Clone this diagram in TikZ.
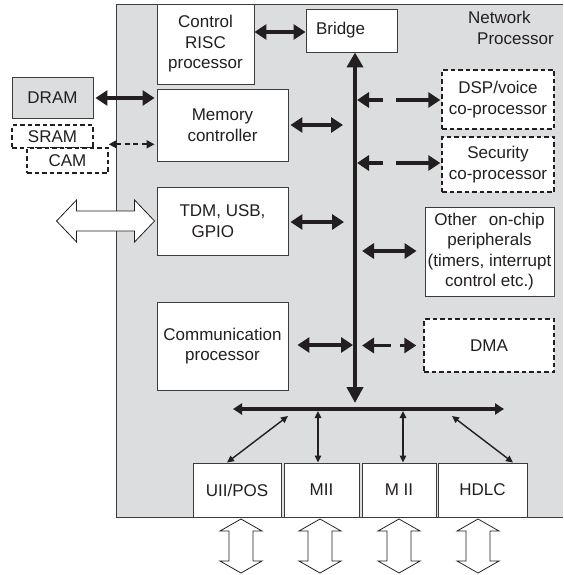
\documentclass[tikz,border=0pt]{standalone}
\usepackage{fontspec}
\setmainfont{Liberation Sans}
\usetikzlibrary{arrows.meta,calc}
\definecolor{chipgray}{RGB}{220,221,223}
\definecolor{ink}{RGB}{35,31,32}
\definecolor{edge}{RGB}{60,60,60}

\begin{document}
\begin{tikzpicture}[x=1pt,y=-1pt,
  font=\fontsize{17}{20.5}\selectfont, text=ink,
  sz/.style 2 args={minimum width=#1pt, minimum height=#2pt},
  blk/.style={draw=edge, line width=0.9pt, fill=white, inner sep=0pt, align=center},
  dblk/.style={blk, draw=ink, line width=1.4pt, dash pattern=on 4.5pt off 3pt},
  thk/.style={draw=ink, line width=3.2pt,
    {Triangle[length=12pt,width=15pt]}-{Triangle[length=12pt,width=15pt]}},
  dthk/.style={thk, dash pattern=on 15pt off 13pt on 60pt off 1pt},
  dthkshort/.style={thk, dash pattern=on 18pt off 9pt},
  busline/.style={draw=ink, line width=4pt,
    {Triangle[length=15pt,width=16pt]}-{Triangle[length=16pt,width=16pt]}},
  hbus/.style={draw=ink, line width=3.6pt,
    {Triangle[length=9pt,width=11pt]}-{Triangle[length=9pt,width=11pt]}},
  thin/.style={draw=ink, line width=1.4pt,
    {Triangle[length=7pt,width=6.5pt]}-{Triangle[length=7pt,width=6.5pt]}},
  dthin/.style={draw=ink, line width=1.8pt, dash pattern=on 5pt off 3.5pt,
    {Triangle[length=8pt,width=8pt]}-{Triangle[length=8pt,width=8pt]}},
  hollow/.style={draw=ink, line width=0.8pt, fill=white, line join=miter},
  pics/vport/.style={code={
    \path[hollow] (0,-27) -- (21,-15) -- (12,-15) -- (12,15) -- (21,15)
      -- (0,27) -- (-21,15) -- (-12,15) -- (-12,-15) -- (-21,-15) -- cycle;}}
]
\useasboundingbox (0,0) rectangle (563,575);

% chip outline
\fill[chipgray] (116,4) rectangle (563,517);
\draw[edge, line width=0.9pt] (563,4) -- (116,4) -- (116,517) -- (563,517);
\node[anchor=north west, align=left, inner sep=0pt] (np) at (468,11)
  {Network\\\hspace*{9pt}Processor};

% on-chip blocks
\node[blk, sz={97}{80}] (ctrl) at (205.5,44) {Control\\RISC\\processor};
\node[blk, sz={91}{43}, align=left, text width=71pt, inner xsep=10pt] (bridge)
  at (351.5,30.5) {\raisebox{4pt}{Bridge}};
\node[blk, sz={131}{72}] (mem) at (222.5,125) {Memory\\controller};
\node[blk, sz={131}{68}, align=left] (tdm) at (222.5,221)
  {TDM, USB,\\\hspace*{12pt}GPIO};
\node[blk, sz={131}{88}] (comm) at (222.5,346) {Communication\\processor};
\node[dblk, sz={112}{59}] (dsp) at (498,99.5) {DSP/voice\\co-processor};
\node[dblk, sz={112}{55}] (sec) at (498,164.5) {Security\\co-processor};
\node[blk, sz={129}{89}] (other) at (489.5,251.5)
  {Other\hspace{12pt}on-chip\\peripherals\\(timers, interrupt\\control etc.)};
\node[dblk, sz={130}{53}] (dma) at (489,345.5) {DMA};

% ports
\node[blk, sz={88}{54}] (uii) at (237,490) {UII/POS};
\node[blk, sz={75}{54}] (mii) at (321.5,490) {MII};
\node[blk, sz={74}{54}] (mii2) at (399,490) {M II};
\node[blk, sz={89}{54}] (hdlc) at (482.5,490) {HDLC};

% external memories
\node[blk, fill=chipgray, sz={81}{41}] (dram) at (52.5,97.5) {DRAM};
\node[dblk, sz={81}{23}] (sram) at (52.5,136.5) {SRAM};
\node[dblk, sz={81}{25}] (cam) at (67.5,160.5) {CAM};

% internal bus
\coordinate (busend) at (355,403);
\coordinate (hl) at (233,409);
\coordinate (hr) at (504,409);
\draw[busline] ($(bridge.south)+(3.5,0)$) -- (busend);
\draw[hbus] (hl) -- (hr);

% links to the bus
\draw[thk] ($(bridge.west -| ctrl.east)+(0,1.5)$) -- ($(bridge.west)+(0,1.5)$);
\draw[thk] ($(mem.east)+(2,0)$) -- ($(mem.east -| busend)+(-12,0)$);
\draw[thk] ($(tdm.east)+(2,1)$) -- ($(tdm.east -| busend)+(-11,1)$);
\draw[thk] ($(comm.east)+(9,-1)$) -- ($(comm.east -| busend)+(-2,-1)$);
\draw[dthk] ($(dsp.west -| busend)+(2,0.5)$) -- ($(dsp.west)+(-1,0.5)$);
\draw[dthk] ($(sec.west -| busend)+(2,-1.5)$) -- ($(sec.west)+(-1,-1.5)$);
\draw[thk] ($(other.west -| busend)+(7,-0.5)$) -- ($(other.west)+(-8,-0.5)$);
\draw[dthkshort] ($(dma.west -| busend)+(7,0)$) -- ($(dma.west)+(-7,0)$);

% memory links
\draw[thk] ($(dram.east)+(2,0.5)$) -- ($(dram.east -| mem.west)+(-2,0.5)$);
\coordinate (camlink) at ($(cam.north east)+(0,-3)$);
\draw[dthin] (camlink) -- ($(camlink -| mem.west)+(-2,0)$);

% port links
\draw[thin] (288,416) -- ($(uii.north)+(-10,0)$);
\draw[thin] (318,411) -- ($(mii.north)+(-3.5,0)$);
\draw[thin] (403,411) -- ($(mii2.north)+(4,0)$);
\draw[thin] (452,416) -- ($(hdlc.north)+(30.5,0)$);

% external interfaces
\path[hollow] ($(tdm.west)+(-2,0)$) -- ++(-20,-21) -- ++(0,11) -- ++(-58,0)
  -- ++(0,-11) -- ++(-20,21) -- ++(20,21) -- ++(0,-11) -- ++(58,0)
  -- ++(0,11) -- cycle;
\pic at (241,546) {vport};
\pic at (320,546) {vport};
\pic at (399,546) {vport};
\pic at (478,546) {vport};
\end{tikzpicture}
\end{document}
